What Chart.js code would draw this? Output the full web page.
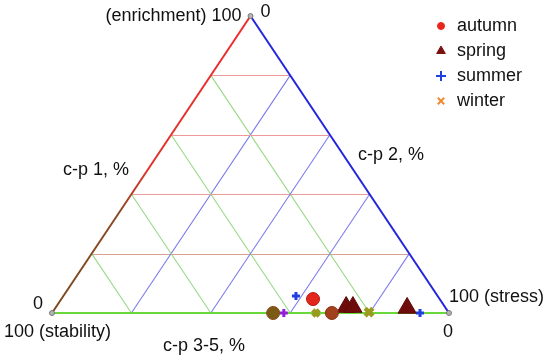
<!DOCTYPE html>
<html>
<head>
<meta charset="utf-8">
<script src="https://cdn.jsdelivr.net/npm/chart.js@4/dist/chart.umd.min.js"></script>
<style>
  html, body { margin: 0; padding: 0; background: #ffffff; }
  #wrap { width: 550px; height: 357px; }
</style>
</head>
<body>
<div id="wrap"><canvas id="ternary" width="550" height="357"></canvas></div>
<script>
(function () {
  'use strict';

  // ternary values in %: c-p 1 (enrichment), c-p 2 (stress), c-p 3-5 (stability)
  var seasons = ['autumn', 'spring', 'summer', 'winter'];

  var autumnEnrich = [4.7, 0, 0];
  var autumnStress = [63.4, 55.7, 70.5];
  var autumnStab = [31.9, 44.3, 29.5];

  var springEnrich = [2.0, 2.0, 1.7];
  var springStress = [73.1, 74.8, 88.6];
  var springStab = [24.9, 23.2, 9.7];

  var summerEnrich = [5.7, 0, 0];
  var summerStress = [58.6, 58.4, 92.7];
  var summerStab = [35.7, 41.6, 7.3];

  var winterEnrich = [0, 0.3];
  var winterStress = [66.5, 79.7];
  var winterStab = [33.5, 20.0];

  var gridTicks = [20, 40, 60, 80];

  var FONT = '18px "Liberation Sans", Arial, sans-serif';

  function toPoints(enrich, stress, stab) {
    return enrich.map(function (a, i) {
      return { x: stress[i] + a / 2, y: a, c1: a, c2: stress[i], c3: stab[i] };
    });
  }

  // ternary (enrichment, stress) -> pixel via the chart scales
  function px(chart, a, b) {
    return {
      x: chart.scales.x.getPixelForValue(b + a / 2),
      y: chart.scales.y.getPixelForValue(a)
    };
  }

  function line(ctx, p, q, color, width) {
    ctx.beginPath();
    ctx.moveTo(p.x, p.y);
    ctx.lineTo(q.x, q.y);
    ctx.strokeStyle = color;
    ctx.lineWidth = width;
    ctx.stroke();
  }

  var triangleFrame = {
    id: 'triangleFrame',
    beforeDatasetsDraw: function (chart) {
      var ctx = chart.ctx;
      ctx.save();
      gridTicks.forEach(function (t) {
        // constant enrichment (snap to pixel row)
        var h1 = px(chart, t, 0), h2 = px(chart, t, 100 - t);
        var hy = Math.round(h1.y) + 0.5;
        line(ctx, { x: h1.x, y: hy }, { x: h2.x, y: hy }, t > 30 ? '#ec9a9a' : '#d8a092', 1);
        // constant stability
        line(ctx, px(chart, 100 - t, 0), px(chart, 0, 100 - t), '#98d884', 1.1);
        // constant stress
        line(ctx, px(chart, 0, t), px(chart, 100 - t, t), '#7c7cec', 1.1);
      });

      var top = px(chart, 100, 0);
      var left = px(chart, 0, 0);
      var right = px(chart, 0, 100);

      var grad = ctx.createLinearGradient(top.x, top.y, left.x, left.y);
      grad.addColorStop(0, '#ee2b2b');
      grad.addColorStop(0.52, '#e0342a');
      grad.addColorStop(0.66, '#8c4a22');
      grad.addColorStop(1, '#7a4a20');
      line(ctx, top, left, grad, 2);
      line(ctx, top, right, '#2424dd', 2);
      line(ctx, left, right, '#6ad83a', 2);

      [top, left, right].forEach(function (p) {
        ctx.beginPath();
        ctx.arc(p.x, p.y, 2.5, 0, Math.PI * 2);
        ctx.fillStyle = '#b4b4b4';
        ctx.fill();
        ctx.strokeStyle = '#7a7a7a';
        ctx.lineWidth = 1;
        ctx.stroke();
      });
      ctx.restore();
    },
    afterDraw: function (chart) {
      var ctx = chart.ctx;
      var top = px(chart, 100, 0);
      var left = px(chart, 0, 0);
      var right = px(chart, 0, 100);
      ctx.save();
      ctx.font = FONT;
      ctx.fillStyle = '#111111';
      ctx.textBaseline = 'middle';

      ctx.textAlign = 'right';
      ctx.fillText('(enrichment) 100', top.x - 9, top.y);
      ctx.fillText('0', left.x - 9, left.y - 9);
      ctx.textAlign = 'left';
      ctx.fillText('0', top.x + 10, top.y - 4);
      ctx.fillText('100 (stability)', 4, left.y + 19);
      ctx.fillText('100 (stress)', right.x, right.y - 16);
      ctx.fillText('c-p 1, %', 63, 170);
      ctx.fillText('c-p 2, %', 358, 155);
      ctx.textAlign = 'center';
      ctx.fillText('0', right.x - 1, right.y + 19);
      ctx.fillText('c-p 3-5, %', 204, 346);

      // legend
      var legendX = 441;
      chart.data.datasets.forEach(function (ds, i) {
        var y = 26 + i * 25;
        ctx.fillStyle = ds.legendColor;
        ctx.strokeStyle = ds.legendColor;
        ctx.lineWidth = ds.legendBorderWidth;
        Chart.helpers.drawPoint(ctx, {
          pointStyle: ds.pointStyle,
          radius: ds.legendRadius,
          borderWidth: ds.legendBorderWidth
        }, legendX, y);
        ctx.fillStyle = '#111111';
        ctx.textAlign = 'left';
        ctx.fillText(ds.label, 457, y);
      });
      ctx.restore();
    }
  };

  new Chart(document.getElementById('ternary'), {
    type: 'scatter',
    data: {
      datasets: [{
        label: seasons[0],
        data: toPoints(autumnEnrich, autumnStress, autumnStab),
        pointStyle: 'circle',
        pointRadius: 6.5,
        backgroundColor: ['#e3261b', '#7b5a16', '#a2421c'],
        borderColor: ['#b81c12', '#8a4a1a', '#8a3010'],
        borderWidth: 1,
        legendColor: '#e8261b',
        legendRadius: 3.5,
        legendBorderWidth: 1,
        clip: false
      }, {
        label: seasons[1],
        data: toPoints(springEnrich, springStress, springStab),
        pointStyle: 'triangle',
        pointRadius: 10.5,
        backgroundColor: '#6e0c0c',
        borderColor: '#5e0808',
        borderWidth: 1,
        legendColor: '#7a1010',
        legendRadius: 5,
        legendBorderWidth: 1,
        clip: false
      }, {
        label: seasons[2],
        data: toPoints(summerEnrich, summerStress, summerStab),
        pointStyle: 'cross',
        pointRadius: 4,
        backgroundColor: ['#1f3fe0', '#9020d8', '#1f3fe0'],
        borderColor: ['#1f3fe0', '#9020d8', '#1f3fe0'],
        borderWidth: 3,
        legendColor: '#1f3fe0',
        legendRadius: 5,
        legendBorderWidth: 2,
        clip: false
      }, {
        label: seasons[3],
        data: toPoints(winterEnrich, winterStress, winterStab),
        pointStyle: 'crossRot',
        pointRadius: [4.5, 5.5],
        backgroundColor: '#9a9a1e',
        borderColor: '#9a9a1e',
        borderWidth: 4.5,
        legendColor: '#f08a32',
        legendRadius: 4.5,
        legendBorderWidth: 2,
        clip: false
      }]
    },
    options: {
      responsive: false,
      animation: false,
      layout: { padding: { left: 52, right: 101, top: 16, bottom: 44 } },
      scales: {
        x: { type: 'linear', min: 0, max: 100, display: false },
        y: { type: 'linear', min: 0, max: 100, display: false }
      },
      plugins: {
        legend: { display: false },
        tooltip: {
          callbacks: {
            label: function (context) {
              var r = context.raw;
              return context.dataset.label + ': ' + r.c1 + ' / ' + r.c2 + ' / ' + r.c3;
            }
          }
        }
      }
    },
    plugins: [triangleFrame]
  });
}());
</script>
</body>
</html>
